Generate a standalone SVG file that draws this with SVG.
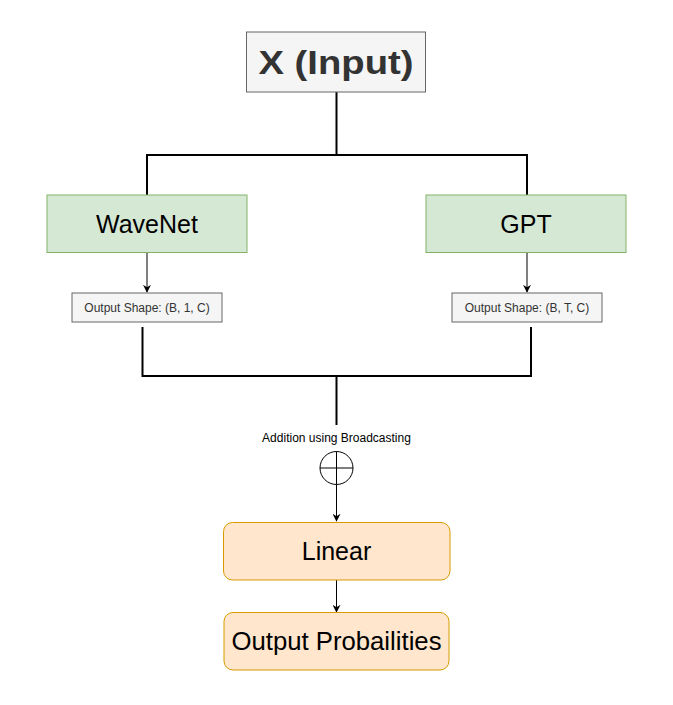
<svg xmlns="http://www.w3.org/2000/svg" width="673" height="705" viewBox="0 0 673 705">
<style>
text{font-family:"Liberation Sans",Arial,sans-serif;text-anchor:middle}
.big{font-size:25px;fill:#000}
.small{font-size:12px;fill:#333}
.thick{fill:none;stroke:#000;stroke-width:2}
.thin{fill:none;stroke:#000;stroke-width:1}
.green{fill:#d5e8d4;stroke:#82b366}
.grey{fill:#f5f5f5;stroke:#666}
.orange{fill:#ffe6cc;stroke:#d79b00}
</style>
<defs>
<marker id="arr" viewBox="0 0 10 10" refX="9" refY="5" markerWidth="8" markerHeight="8" markerUnits="userSpaceOnUse" orient="auto">
<path d="M0,0 L10,5 L0,10 L3,5 Z" fill="#000"/>
</marker>
</defs>
<rect width="673" height="705" fill="#fff"/>
<g id="connectors">
<path class="thick" d="M336.5,92 V155 M147,195 V155 H527 V195"/>
<path class="thin" d="M147,253 V292" marker-end="url(#arr)"/>
<path class="thin" d="M527,253 V292" marker-end="url(#arr)"/>
<path class="thick" d="M142.5,327 V376 H531 V327 M336.5,376 V425"/>
<path class="thin" d="M336.5,484.5 V521" marker-end="url(#arr)"/>
<path class="thin" d="M336.5,580 V612" marker-end="url(#arr)"/>
</g>
<g id="input">
<rect x="246.5" y="32" width="179" height="60" fill="#f5f5f5" stroke="#666"/>
<text x="336" y="74" font-size="33" font-weight="bold" fill="#333" textLength="155" lengthAdjust="spacingAndGlyphs">X (Input)</text>
</g>
<g id="wavenet">
<rect x="47" y="195" width="200" height="57.5" class="green"/>
<text class="big" x="147" y="232.5">WaveNet</text>
</g>
<g id="gpt">
<rect x="426" y="195" width="200" height="57.5" class="green"/>
<text class="big" x="526" y="232.5">GPT</text>
</g>
<g id="shape-wavenet">
<rect x="72" y="293" width="150" height="29" class="grey"/>
<text class="small" x="147" y="312">Output Shape: (B, 1, C)</text>
</g>
<g id="shape-gpt">
<rect x="452" y="293" width="150" height="29" class="grey"/>
<text class="small" x="527" y="312">Output Shape: (B, T, C)</text>
</g>
<g id="add">
<text x="336.5" y="442" font-size="12" fill="#000">Addition using Broadcasting</text>
<circle cx="336.5" cy="468" r="16.5" fill="#fff" stroke="#000"/>
<path class="thin" d="M320,468 H353 M336.5,451.5 V484.5"/>
</g>
<g id="linear">
<rect x="223.5" y="522.5" width="226.5" height="57.5" rx="9" class="orange"/>
<text class="big" x="336.5" y="560">Linear</text>
</g>
<g id="output">
<rect x="224" y="612.5" width="225" height="57.5" rx="9" class="orange"/>
<text class="big" x="336.5" y="650" textLength="210" lengthAdjust="spacingAndGlyphs">Output Probailities</text>
</g>
</svg>
